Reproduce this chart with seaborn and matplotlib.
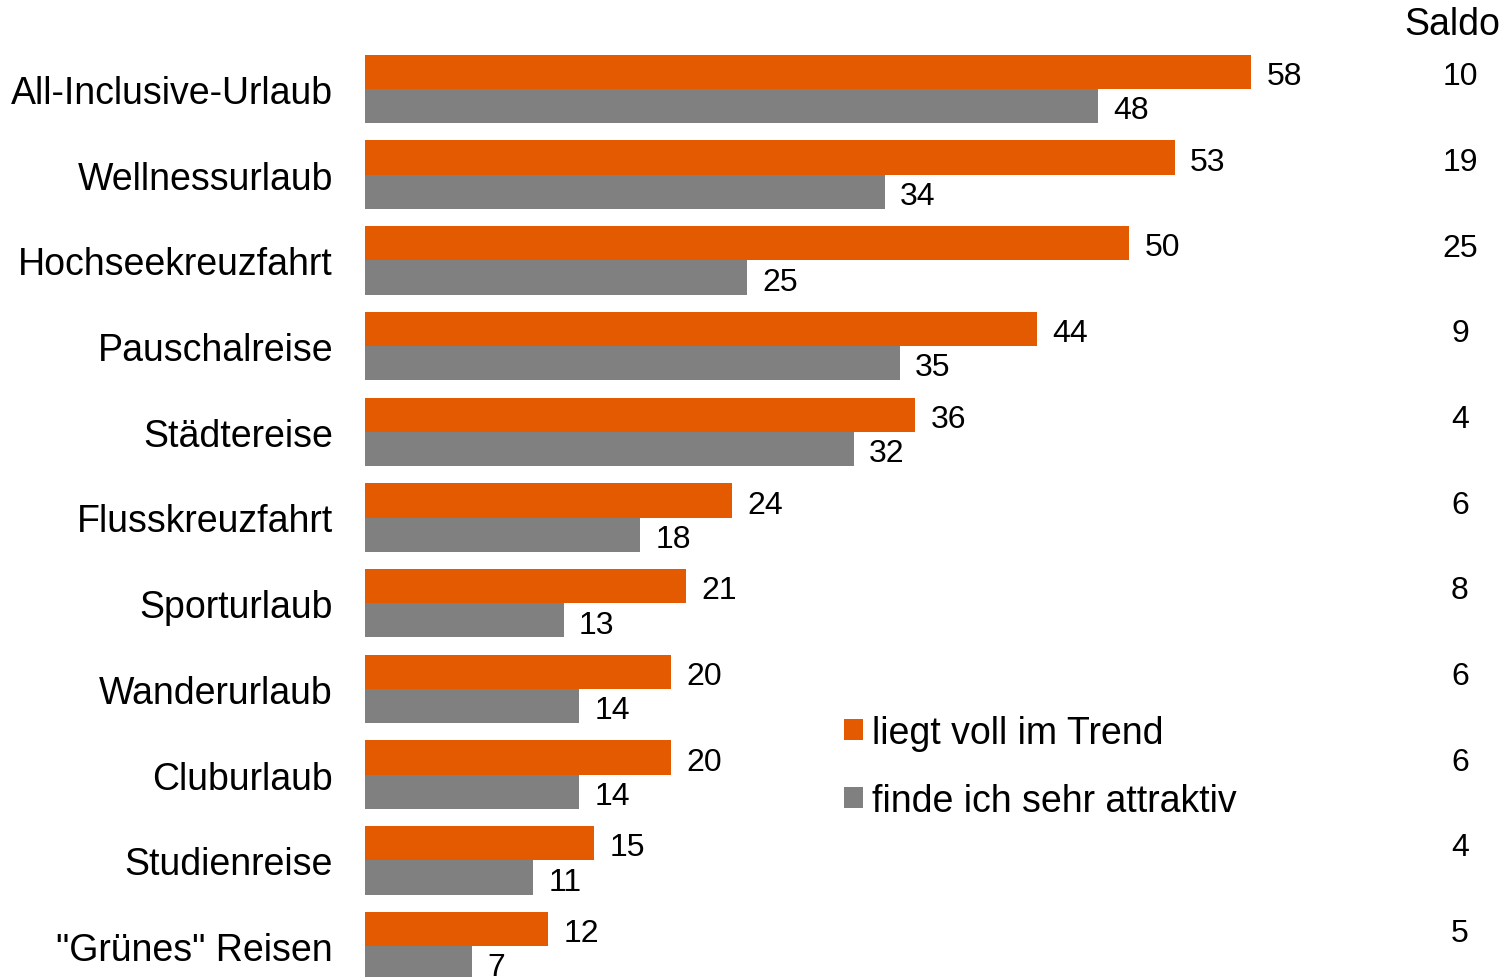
import pandas as pd
import seaborn as sns
import matplotlib.pyplot as plt
import matplotlib.transforms as mtransforms

categories = ["All-Inclusive-Urlaub", "Wellnessurlaub", "Hochseekreuzfahrt", "Pauschalreise",
              "Städtereise", "Flusskreuzfahrt", "Sporturlaub", "Wanderurlaub", "Cluburlaub",
              "Studienreise", "\"Grünes\" Reisen"]
trend = [58, 53, 50, 44, 36, 24, 21, 20, 20, 15, 12]
attraktiv = [48, 34, 25, 35, 32, 18, 13, 14, 14, 11, 7]
saldo = [10, 19, 25, 9, 4, 6, 8, 6, 6, 4, 5]
series_names = ["liegt voll im Trend", "finde ich sehr attraktiv"]

ORANGE = "#E35A00"
GRAY = "#808080"

df = pd.DataFrame({
    "Kategorie": categories * 2,
    "Serie": [series_names[0]] * len(categories) + [series_names[1]] * len(categories),
    "Wert": trend + attraktiv,
})

sns.set_style("white")
plt.rcParams['font.family'] = ['Liberation Sans', 'DejaVu Sans']
plt.rcParams['text.color'] = 'black'
plt.rcParams['ytick.color'] = 'black'

fig = plt.figure(figsize=(15.05, 9.78), dpi=100)
ax = fig.add_axes([365 / 1505, 0, 1 - 365 / 1505, 1])

sns.barplot(data=df, y="Kategorie", x="Wert", hue="Serie", orient="h",
            palette=[ORANGE, GRAY], width=0.8, saturation=1, ax=ax,
            linewidth=0, legend=True)

for cont in ax.containers:
    anns = ax.bar_label(cont, fmt="%d", padding=12, fontsize=23, color="black")
    for a in anns:
        a.xyann = (11, -3)

ax.set_xlim(0, (1505 - 365) / 15.28)
ax.set_ylim((978 - 90) / 85.7, -90 / 85.7)
ax.set_xlabel("")
ax.set_ylabel("")
ax.set_xticks([])
ax.tick_params(axis="y", length=0, pad=23, labelsize=27, labelcolor="black")
sns.despine(ax=ax, left=True, bottom=True)

# Saldo column
trans = mtransforms.blended_transform_factory(fig.transFigure, ax.transData)
for i, s in enumerate(saldo):
    ax.text(1460 / 1505, i - 0.15, str(s), transform=trans, ha="center", va="center",
            fontsize=23, color="black")
fig.text(1500 / 1505, 1 - 25 / 978, "Saldo", ha="right", va="center", fontsize=27, color="black")

leg = ax.legend(loc="upper left", bbox_to_anchor=(810 / 1505, 1 - 682 / 978),
                bbox_transform=fig.transFigure, frameon=False, fontsize=27,
                handlelength=0.5, handleheight=0.5, handletextpad=0.25, labelspacing=0.85)
for t in leg.get_texts():
    t.set_color("black")

plt.savefig("out.png", dpi=100)
